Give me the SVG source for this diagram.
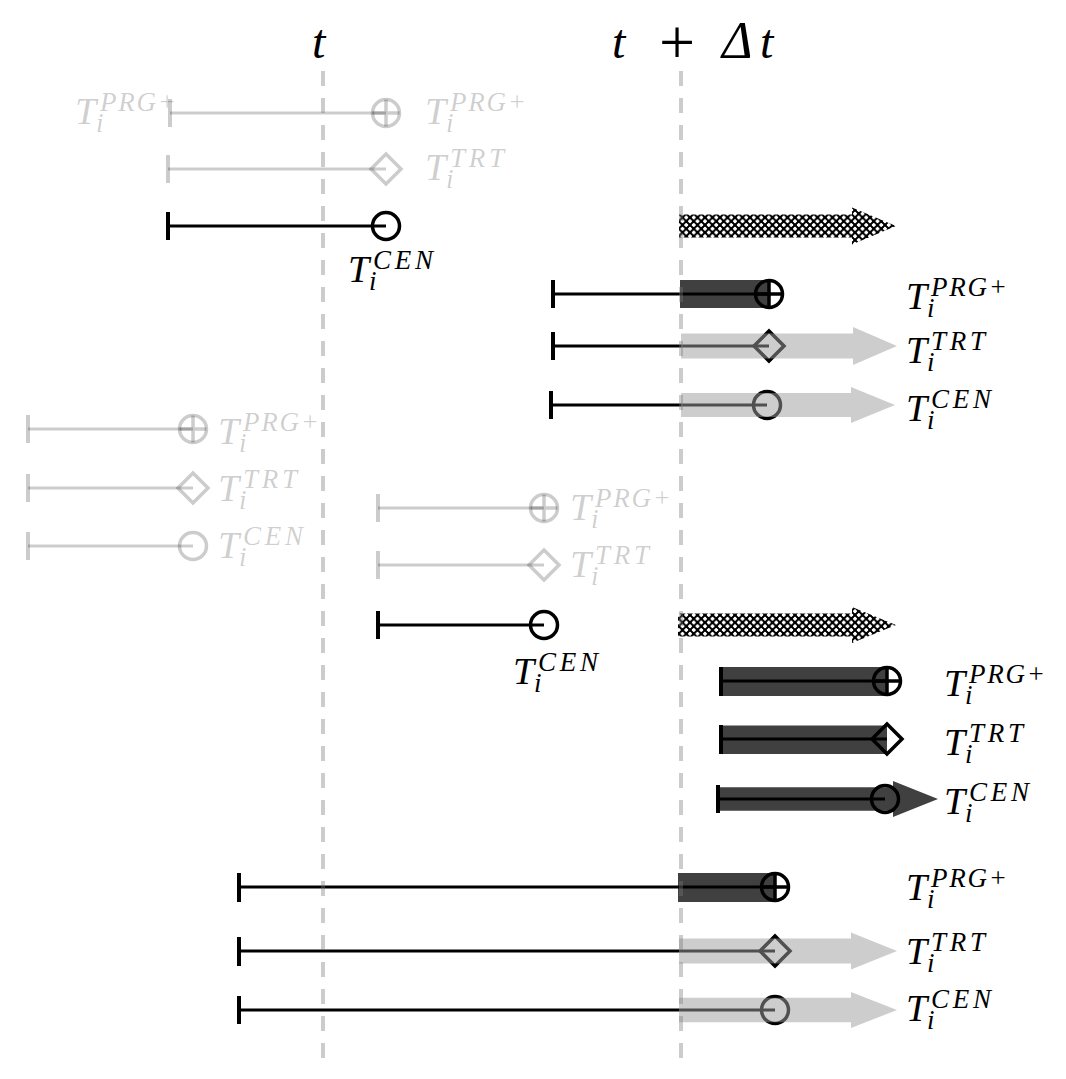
<svg xmlns="http://www.w3.org/2000/svg" width="1066" height="1079" viewBox="0 0 1066 1079">
<defs>
<style>
.ln{stroke:#000;stroke-width:3.2;fill:none}
.tk{stroke:#000;stroke-width:4;fill:none}
.mk{stroke:#000;stroke-width:3.5;fill:none}
.gr{stroke-opacity:0.2}
.T{font-family:"Liberation Serif","Times New Roman",serif;font-style:italic;font-size:38px}
.s{font-family:"Liberation Serif","Times New Roman",serif;font-style:italic;font-size:27px}
.gl text{fill:#000;fill-opacity:0.2}
.bl text{fill:#000}
.dark{fill:#000;fill-opacity:0.75}
.light{fill:rgb(156,156,156);fill-opacity:0.51}
.hatch{fill:url(#hatch)}
.dash{stroke:rgb(120,120,120);stroke-opacity:0.38;stroke-width:4;stroke-dasharray:15 12;fill:none}
.hdr{font-family:"Liberation Serif","Times New Roman",serif;font-size:48px;fill:#000}
.plus{font-size:64px}
.delta{font-size:52px}
</style>
<pattern id="hatch" width="7.5" height="7.5" patternUnits="userSpaceOnUse">
<rect width="7.5" height="7.5" fill="#fff"/>
<path d="M0,0L7.5,7.5M0,7.5L7.5,0M-3.75,3.75L3.75,-3.75M3.75,11.25L11.25,3.75M-3.75,3.75L3.75,11.25M3.75,-3.75L11.25,3.75" stroke="#000" stroke-width="2.1" shape-rendering="crispEdges"/>
</pattern>
</defs>
<rect width="1066" height="1079" fill="#fff"/>

<g id="header">
<text class="hdr" x="312" y="58" font-style="italic">t</text>
<text class="hdr" x="612" y="58" font-style="italic">t</text>
<text class="hdr plus" x="677" y="64" text-anchor="middle">+</text>
<text class="hdr delta" x="722" y="58" font-style="italic">Δ</text>
<text class="hdr" x="760" y="58" font-style="italic">t</text>
</g>

<!-- Group A -->
<g id="a1">
<path class="ln gr" d="M170,113H386"/><path class="tk gr" d="M170,99V127"/>
<circle class="mk gr" cx="386" cy="113" r="13.5"/><path class="mk gr" d="M372.5,113H399.5M386,99.5V126.5"/>
</g>
<g id="a2">
<path class="ln gr" d="M168,169H386"/><path class="tk gr" d="M168,155V183"/>
<path class="mk gr" d="M386,154L401,169L386,184L371,169Z"/>
</g>
<g id="a3">
<path class="ln" d="M168,226H386"/><path class="tk" d="M168,212V240"/>
<circle class="mk" cx="386" cy="226" r="13.5"/>
</g>
<g id="a-hatch"><path class="hatch" d="M679,214.5H852V207.5L896,226L852,244.5V237.5H679Z"/></g>

<!-- Group B -->
<g id="b1">
<path class="ln" d="M553,294H769"/><path class="tk" d="M553,280V308"/>
<circle class="mk" cx="769" cy="294" r="13.5"/><path class="mk" d="M755.5,294H782.5M769,280.5V307.5"/>
<rect class="dark" x="680" y="280" width="89" height="28"/>
</g>
<g id="b2">
<path class="ln" d="M553,346H769"/><path class="tk" d="M553,332V360"/>
<path class="mk" d="M769,331L784,346L769,361L754,346Z"/>
<path class="light" d="M681,333.5H853V327L897,346L853,365V358.5H681Z"/>
</g>
<g id="b3">
<path class="ln" d="M551,405H767"/><path class="tk" d="M551,391V419"/>
<circle class="mk" cx="767" cy="405" r="13.5"/>
<path class="light" d="M681,393H851V387L895,405L851,423V417H681Z"/>
</g>

<!-- Group C -->
<g id="c1">
<path class="ln gr" d="M28,429H193"/><path class="tk gr" d="M28,415V443"/>
<circle class="mk gr" cx="193" cy="429" r="13.5"/><path class="mk gr" d="M179.5,429H206.5M193,415.5V442.5"/>
</g>
<g id="c2">
<path class="ln gr" d="M28,488H193"/><path class="tk gr" d="M28,474V502"/>
<path class="mk gr" d="M193,473L208,488L193,503L178,488Z"/>
</g>
<g id="c3">
<path class="ln gr" d="M28,546H193"/><path class="tk gr" d="M28,532V560"/>
<circle class="mk gr" cx="193" cy="546" r="13.5"/>
</g>

<!-- Group D -->
<g id="d1">
<path class="ln gr" d="M378,508H544"/><path class="tk gr" d="M378,494V522"/>
<circle class="mk gr" cx="544" cy="508" r="13.5"/><path class="mk gr" d="M530.5,508H557.5M544,494.5V521.5"/>
</g>
<g id="d2">
<path class="ln gr" d="M378,565H544"/><path class="tk gr" d="M378,551V579"/>
<path class="mk gr" d="M544,550L559,565L544,580L529,565Z"/>
</g>
<g id="d3">
<path class="ln" d="M378,625H544"/><path class="tk" d="M378,611V639"/>
<circle class="mk" cx="544" cy="625" r="13.5"/>
</g>
<g id="d-hatch"><path class="hatch" d="M678,613.5H852V607L896,625L852,643V636.5H678Z"/></g>

<!-- Group E -->
<g id="e1">
<path class="ln" d="M721,681H887"/><path class="tk" d="M721,667V696"/>
<circle class="mk" cx="887" cy="681" r="13.5"/><path class="mk" d="M873.5,681H900.5M887,667.5V694.5"/>
<rect class="dark" x="720" y="667" width="167" height="29"/>
</g>
<g id="e2">
<path class="ln" d="M721,739H887"/><path class="tk" d="M721,725V754"/>
<path class="mk" d="M887,724L902,739L887,754L872,739Z"/>
<rect class="dark" x="720" y="725.5" width="167" height="28.5"/>
</g>
<g id="e3">
<path class="ln" d="M718,799H885"/><path class="tk" d="M718,785V813"/>
<circle class="mk" cx="885" cy="799" r="13.5"/>
<path class="dark" d="M718,787.3H893V781L938,799L893,817V810.7H718Z"/>
</g>

<!-- Group F -->
<g id="f1">
<path class="ln" d="M239,887H775"/><path class="tk" d="M239,873V902"/>
<circle class="mk" cx="775" cy="887" r="13.5"/><path class="mk" d="M761.5,887H788.5M775,873.5V900.5"/>
<rect class="dark" x="678" y="873" width="97" height="29"/>
</g>
<g id="f2">
<path class="ln" d="M239,951H775"/><path class="tk" d="M239,937V966"/>
<path class="mk" d="M775,936L790,951L775,966L760,951Z"/>
<path class="light" d="M679,938.5H851V932.5L897,951L851,969.5V963.5H679Z"/>
</g>
<g id="f3">
<path class="ln" d="M239,1010H775"/><path class="tk" d="M239,996V1024"/>
<circle class="mk" cx="775" cy="1010" r="13.5"/>
<path class="light" d="M679,997.7H851V992L897,1010L851,1028V1022.3H679Z"/>
</g>

<!-- Labels -->
<g id="labels">
<g class="gl" transform="translate(75,124)"><text class="T">T</text><text class="s" x="25" y="-13" textLength="76">PRG+</text><text class="s" x="21" y="8">i</text></g>
<g class="gl" transform="translate(425,124)"><text class="T">T</text><text class="s" x="25" y="-13" textLength="76">PRG+</text><text class="s" x="21" y="8">i</text></g>
<g class="gl" transform="translate(425,180)"><text class="T">T</text><text class="s" x="25" y="-13" textLength="54">TRT</text><text class="s" x="21" y="8">i</text></g>
<g class="bl" transform="translate(348,282)"><text class="T">T</text><text class="s" x="25" y="-13" textLength="60">CEN</text><text class="s" x="21" y="8">i</text></g>

<g class="bl" transform="translate(906,309)"><text class="T">T</text><text class="s" x="25" y="-13" textLength="76">PRG+</text><text class="s" x="21" y="8">i</text></g>
<g class="bl" transform="translate(906,363)"><text class="T">T</text><text class="s" x="25" y="-13" textLength="54">TRT</text><text class="s" x="21" y="8">i</text></g>
<g class="bl" transform="translate(906,421)"><text class="T">T</text><text class="s" x="25" y="-13" textLength="60">CEN</text><text class="s" x="21" y="8">i</text></g>

<g class="gl" transform="translate(218,444)"><text class="T">T</text><text class="s" x="25" y="-13" textLength="76">PRG+</text><text class="s" x="21" y="8">i</text></g>
<g class="gl" transform="translate(218,501)"><text class="T">T</text><text class="s" x="25" y="-13" textLength="54">TRT</text><text class="s" x="21" y="8">i</text></g>
<g class="gl" transform="translate(218,558)"><text class="T">T</text><text class="s" x="25" y="-13" textLength="60">CEN</text><text class="s" x="21" y="8">i</text></g>

<g class="gl" transform="translate(570,520)"><text class="T">T</text><text class="s" x="25" y="-13" textLength="76">PRG+</text><text class="s" x="21" y="8">i</text></g>
<g class="gl" transform="translate(570,577)"><text class="T">T</text><text class="s" x="25" y="-13" textLength="54">TRT</text><text class="s" x="21" y="8">i</text></g>
<g class="bl" transform="translate(513,684)"><text class="T">T</text><text class="s" x="25" y="-13" textLength="60">CEN</text><text class="s" x="21" y="8">i</text></g>

<g class="bl" transform="translate(944,696)"><text class="T">T</text><text class="s" x="25" y="-13" textLength="76">PRG+</text><text class="s" x="21" y="8">i</text></g>
<g class="bl" transform="translate(944,755)"><text class="T">T</text><text class="s" x="25" y="-13" textLength="54">TRT</text><text class="s" x="21" y="8">i</text></g>
<g class="bl" transform="translate(944,814)"><text class="T">T</text><text class="s" x="25" y="-13" textLength="60">CEN</text><text class="s" x="21" y="8">i</text></g>

<g class="bl" transform="translate(906,900)"><text class="T">T</text><text class="s" x="25" y="-13" textLength="76">PRG+</text><text class="s" x="21" y="8">i</text></g>
<g class="bl" transform="translate(906,964)"><text class="T">T</text><text class="s" x="25" y="-13" textLength="54">TRT</text><text class="s" x="21" y="8">i</text></g>
<g class="bl" transform="translate(906,1021)"><text class="T">T</text><text class="s" x="25" y="-13" textLength="60">CEN</text><text class="s" x="21" y="8">i</text></g>
</g>

<g id="connectors">
<path class="dash" d="M323,71V1058"/>
<path class="dash" d="M681,71V1058"/>
</g>
</svg>
